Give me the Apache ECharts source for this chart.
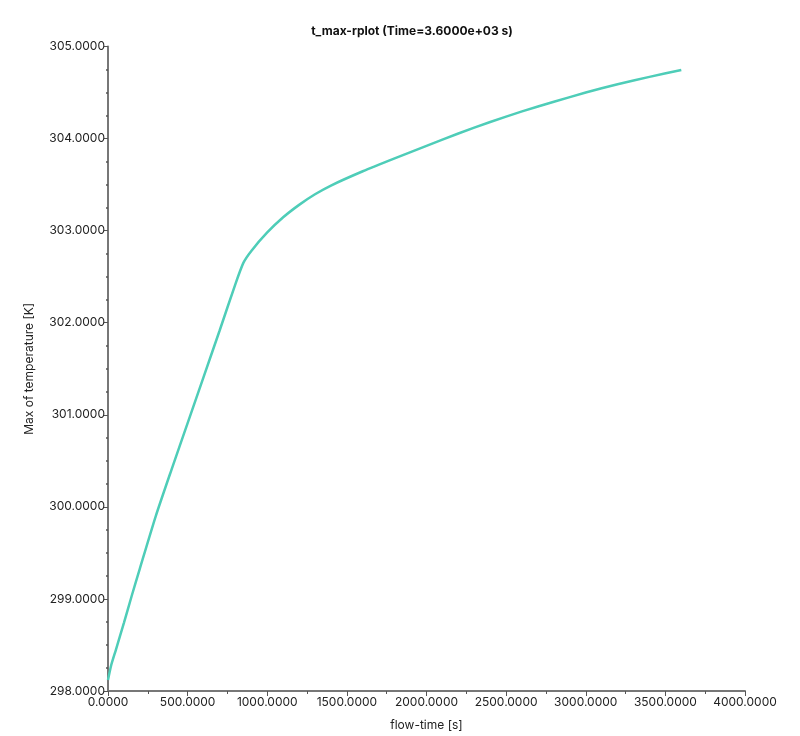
<!DOCTYPE html>
<html>
<head>
<meta charset="utf-8">
<script src="https://cdn.jsdelivr.net/npm/echarts@6/dist/echarts.min.js"></script>
<style>html,body{margin:0;padding:0;background:#fff;}#c{width:800px;height:736px;}</style>
</head>
<body>
<div id="c"></div>
<script>
const titleText = 't_max-rplot (Time=3.6000e+03 s)';
const xName = 'flow-time [s]';
const yName = 'Max of temperature [K]';
const flowTime = [0, 20, 50, 100, 150, 200, 300, 400, 500, 600, 700, 800, 850, 900, 1000, 1100, 1200, 1300, 1400, 1600, 1800, 2000, 2200, 2400, 2600, 2800, 3000, 3200, 3400, 3600];
const tMax = [298.12, 298.28, 298.45, 298.74, 299.04, 299.33, 299.90, 300.41, 300.91, 301.41, 301.91, 302.42, 302.65, 302.78, 302.98, 303.145, 303.28, 303.395, 303.49, 303.645, 303.785, 303.92, 304.055, 304.18, 304.295, 304.40, 304.50, 304.59, 304.67, 304.745];

const data = flowTime.map((t, i) => [t, tMax[i]]);
const font = 'Inter, "Noto Sans", sans-serif';
const chart = echarts.init(document.getElementById('c'));
chart.setOption({
  animation: false,
  backgroundColor: '#fff',
  title: {
    text: titleText, left: 407, top: 20, textAlign: 'center',
    textStyle: { fontSize: 12, fontWeight: 'bold', color: '#111', fontFamily: font }
  },
  grid: { left: 108, right: 55, top: 46.5, bottom: 44, containLabel: false },
  xAxis: {
    type: 'value', min: 0, max: 4000, interval: 500,
    name: xName, nameLocation: 'middle', nameGap: 28,
    nameTextStyle: { fontSize: 12, color: '#222', fontFamily: font },
    axisLine: { show: true, lineStyle: { color: '#777', width: 2 } },
    axisTick: { show: true, length: 5, lineStyle: { color: '#555', width: 1 } },
    minorTick: { show: true, splitNumber: 2, length: 3, lineStyle: { color: '#555', width: 1 } },
    splitLine: { show: false },
    axisLabel: { fontSize: 12, color: '#222', fontFamily: font, margin: 5, formatter: v => v.toFixed(4) }
  },
  yAxis: {
    type: 'value', min: 298, max: 305, interval: 1,
    name: yName, nameLocation: 'middle', nameGap: 73, nameRotate: 90,
    nameTextStyle: { fontSize: 12, color: '#222', fontFamily: font },
    axisLine: { show: true, lineStyle: { color: '#777', width: 2 } },
    axisTick: { show: true, length: 4, lineStyle: { color: '#555', width: 1 } },
    minorTick: { show: true, splitNumber: 4, length: 2, lineStyle: { color: '#555', width: 1.5 } },
    splitLine: { show: false },
    axisLabel: { fontSize: 12, color: '#222', fontFamily: font, margin: 3, formatter: v => v.toFixed(4) }
  },
  series: [{
    type: 'line', data: data, smooth: 0.2, showSymbol: false,
    lineStyle: { color: '#4ecdb8', width: 2.5 }, itemStyle: { color: '#4ecdb8' }
  }]
});
</script>
</body>
</html>
